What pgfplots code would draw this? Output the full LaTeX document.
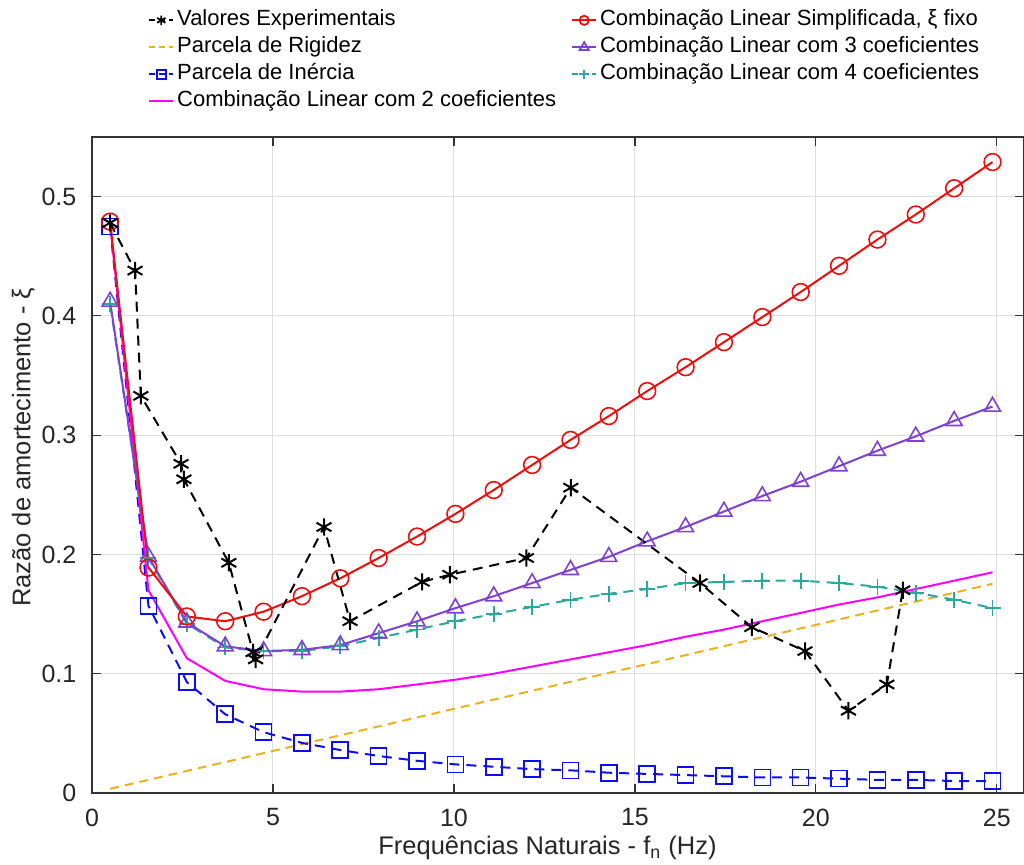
\documentclass[border=0pt]{standalone}
\usepackage{pgfplots}
\pgfplotsset{compat=1.18}
\usepackage{fontspec}
\setmainfont{Liberation Sans}
\definecolor{cOrange}{rgb}{0.929,0.694,0.125}
\definecolor{cPurple}{rgb}{0.50,0.25,0.82}
\definecolor{cTeal}{rgb}{0.17,0.66,0.62}
\definecolor{cBlue}{rgb}{0.05,0.05,0.95}
\definecolor{cRed}{rgb}{0.95,0.05,0.05}
\definecolor{cMag}{rgb}{1,0,1}
\begin{document}
\begin{tikzpicture}
\path[use as bounding box] (-46pt,-36pt) rectangle (466pt,396.5pt);
\begin{axis}[
  at={(0,0)}, anchor=south west,
  scale only axis, width=466pt, height=328pt,
  xmin=0, xmax=25.75, ymin=0, ymax=0.55,
  xtick={0,5,10,15,20,25}, ytick={0,0.1,0.2,0.3,0.4,0.5},
  yticklabels={0,0.1,0.2,0.3,0.4,0.5},
  grid=major, major grid style={black!13, line width=0.5pt},
  tick align=inside, major tick length=4.5pt,
  axis line style={black!80, line width=0.6pt},
  tick style={black!80, line width=0.6pt},
  ticklabel style={font=\fontsize{12.5}{14}\selectfont, text=black!85},
  /pgf/number format/assume math mode=true,
  yticklabel style={xshift=-4.3pt},
  xticklabel style={yshift=-4.3pt},
  xlabel={Frequências Naturais - f\textsubscript{n} (Hz)},
  ylabel={Razão de amortecimento - ξ},
  label style={font=\fontsize{12.75}{15}\selectfont, text=black!85},
  xlabel style={at={(axis description cs:0.4887,-0.0945)}, anchor=base},
  ylabel style={at={(axis description cs:-0.0660,0.527)}, anchor=base},
  legend columns=2,
  legend style={at={(axis description cs:0.0601,1.1990)}, anchor=north west,
    draw=none, fill=none, inner sep=0pt, row sep=0pt,
    font=\fontsize{11}{13}\selectfont,
    nodes={inner sep=0pt, text height=9.5pt, text depth=4pt},
    /tikz/every odd column/.append style={column sep=1.5pt},
    /tikz/every even column/.append style={column sep=7.5pt}},
  legend cell align=left,
  legend image code/.code={\draw[mark repeat=2,mark phase=2,#1] plot coordinates {(0pt,0pt) (6pt,0pt) (12pt,0pt)};},
]
% legend entries (row-major order)
\addlegendimage{black, line width=0.9pt, dash pattern=on 3pt off 2pt, mark=asterisk, mark size=2.4pt, mark options={solid}}
\addlegendentry{Valores Experimentais}
\addlegendimage{cRed, line width=0.9pt, mark=o, mark size=2.3pt}
\addlegendentry{Combinação Linear Simplificada, ξ fixo}
\addlegendimage{cOrange, line width=0.9pt, dash pattern=on 3pt off 2pt}
\addlegendentry{Parcela de Rigidez}
\addlegendimage{cPurple, line width=0.9pt, mark=triangle, mark size=2.6pt}
\addlegendentry{Combinação Linear com 3 coeficientes}
\addlegendimage{cBlue, line width=0.9pt, dash pattern=on 3pt off 2pt, mark=square, mark size=2.2pt, mark options={solid}}
\addlegendentry{Parcela de Inércia}
\addlegendimage{cTeal, line width=0.9pt, dash pattern=on 3pt off 2pt, mark=+, mark size=2.4pt, mark options={solid}}
\addlegendentry{Combinação Linear com 4 coeficientes}
\addlegendimage{cMag, line width=0.9pt}
\addlegendentry{Combinação Linear com 2 coeficientes}

% Parcela de Rigidez
\addplot[forget plot, cOrange, line width=1pt, dash pattern=on 4.5pt off 3pt] coordinates {
(0.50,0.0035) (1.56,0.0110) (2.62,0.0185) (3.68,0.0259) (4.74,0.0334) (5.80,0.0409)
(6.86,0.0484) (7.92,0.0558) (8.98,0.0633) (10.04,0.0708) (11.10,0.0783) (12.16,0.0857)
(13.22,0.0932) (14.28,0.1007) (15.34,0.1081) (16.40,0.1156) (17.46,0.1231) (18.52,0.1306)
(19.58,0.1380) (20.64,0.1455) (21.70,0.1530) (22.76,0.1605) (23.82,0.1679) (24.88,0.1754)};

% Parcela de Inercia
\addplot[forget plot, cBlue, line width=1pt, dash pattern=on 5pt off 3.5pt, mark=square, mark size=4pt, mark options={solid, line width=0.8pt}] coordinates {
(0.50,0.475) (1.56,0.157) (2.62,0.093) (3.68,0.066) (4.74,0.051) (5.80,0.042)
(6.86,0.036) (7.92,0.031) (8.98,0.027) (10.04,0.024) (11.10,0.022) (12.16,0.020)
(13.22,0.019) (14.28,0.017) (15.34,0.016) (16.40,0.015) (17.46,0.014) (18.52,0.013)
(19.58,0.013) (20.64,0.012) (21.70,0.011) (22.76,0.011) (23.82,0.010) (24.88,0.010)};

% Combinacao 2 coeficientes
\addplot[forget plot, cMag, line width=1pt] coordinates {
(0.50,0.478) (1.56,0.170) (2.62,0.113) (3.68,0.094) (4.74,0.087) (5.80,0.085)
(6.86,0.085) (7.92,0.087) (8.98,0.091) (10.04,0.095) (11.10,0.100) (12.16,0.106)
(13.22,0.112) (14.28,0.118) (15.34,0.124) (16.40,0.131) (17.46,0.137) (18.52,0.144)
(19.58,0.151) (20.64,0.158) (21.70,0.164) (22.76,0.171) (23.82,0.178) (24.88,0.185)};

% Combinacao 4 coeficientes
\addplot[forget plot, cTeal, line width=1pt, dash pattern=on 5pt off 3.5pt, mark=+, mark size=4pt, mark options={solid, line width=0.9pt}] coordinates {
(0.50,0.410) (1.56,0.197) (2.62,0.142) (3.68,0.122) (4.74,0.119) (5.80,0.119)
(6.86,0.123) (7.92,0.130) (8.98,0.137) (10.04,0.144) (11.10,0.150) (12.16,0.156)
(13.22,0.162) (14.28,0.167) (15.34,0.171) (16.40,0.176) (17.46,0.177) (18.52,0.178)
(19.58,0.178) (20.64,0.176) (21.70,0.173) (22.76,0.168) (23.82,0.162) (24.88,0.155)};

% Combinacao 3 coeficientes
\addplot[forget plot, cPurple, line width=1pt, mark=triangle, mark size=4.6pt, mark options={line width=0.8pt}] coordinates {
(0.50,0.412) (1.56,0.198) (2.62,0.143) (3.68,0.123) (4.74,0.119) (5.80,0.120)
(6.86,0.124) (7.92,0.134) (8.98,0.144) (10.04,0.155) (11.10,0.165) (12.16,0.176)
(13.22,0.187) (14.28,0.198) (15.34,0.211) (16.40,0.223) (17.46,0.236) (18.52,0.249)
(19.58,0.261) (20.64,0.274) (21.70,0.287) (22.76,0.299) (23.82,0.312) (24.88,0.324)};

% Combinacao simplificada
\addplot[forget plot, cRed, line width=1pt, mark=o, mark size=4.2pt, mark options={line width=0.8pt}] coordinates {
(0.50,0.479) (1.56,0.189) (2.62,0.148) (3.68,0.144) (4.74,0.152) (5.80,0.165)
(6.86,0.180) (7.92,0.197) (8.98,0.215) (10.04,0.234) (11.10,0.254) (12.16,0.275)
(13.22,0.296) (14.28,0.316) (15.34,0.337) (16.40,0.357) (17.46,0.378) (18.52,0.399)
(19.58,0.420) (20.64,0.442) (21.70,0.464) (22.76,0.485) (23.82,0.507) (24.88,0.529)};

% Valores experimentais
\addplot[forget plot, black, line width=1pt, dash pattern=on 5pt off 3.5pt, mark=asterisk, mark size=4.3pt, mark options={solid, line width=1pt}] coordinates {
(0.50,0.478) (1.19,0.438) (1.35,0.333) (2.46,0.276) (2.54,0.263) (3.78,0.193)
(4.45,0.118) (4.52,0.112) (6.41,0.223) (7.13,0.144) (9.12,0.177) (9.89,0.183)
(12.00,0.197) (13.23,0.256) (16.80,0.176) (18.23,0.139) (19.70,0.119) (20.90,0.069)
(21.96,0.091) (22.40,0.170)};
\end{axis}
\end{tikzpicture}
\end{document}
